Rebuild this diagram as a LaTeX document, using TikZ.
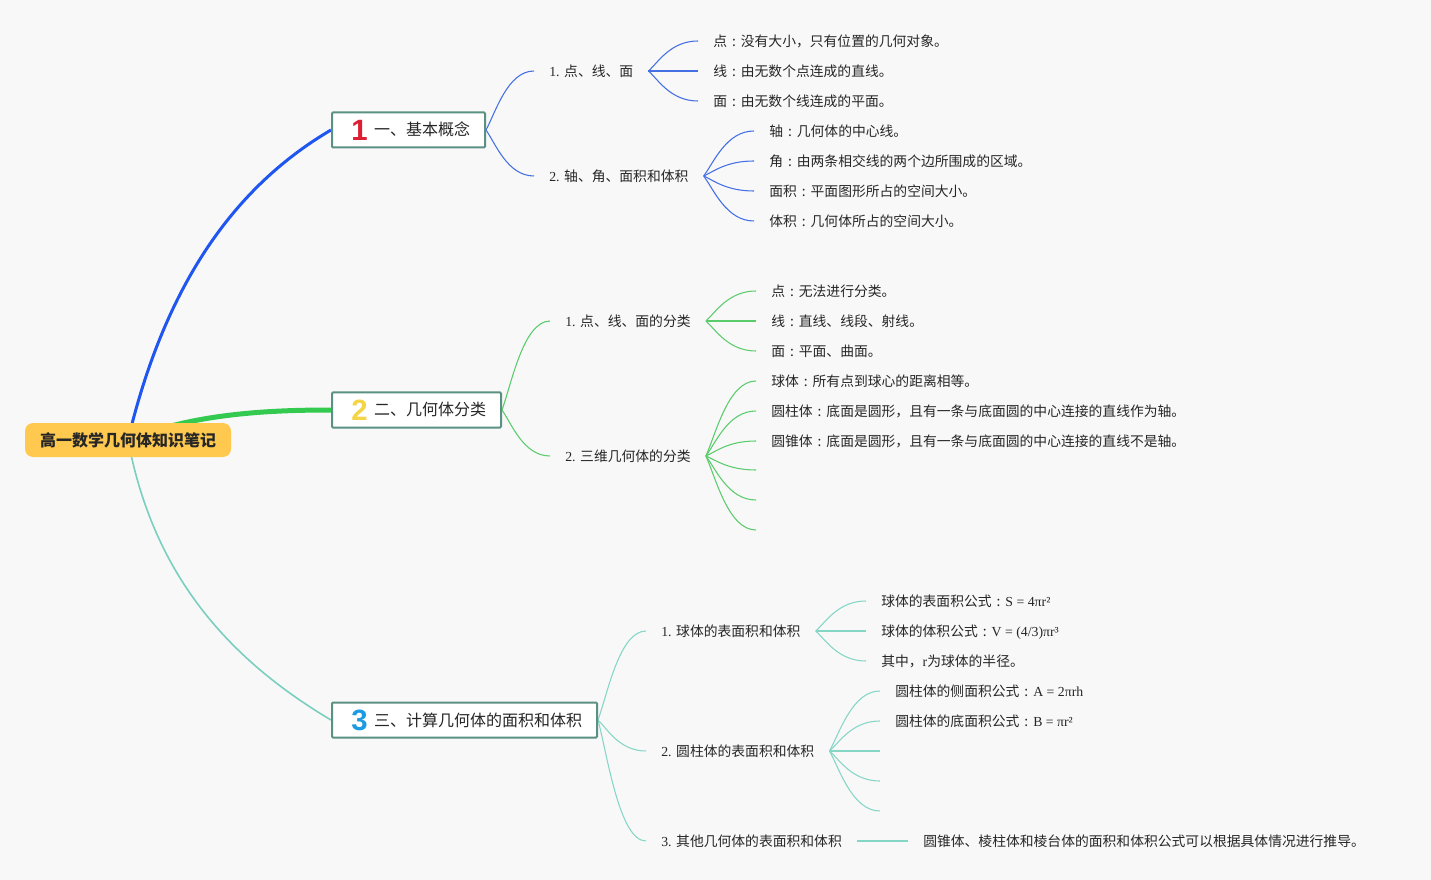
\documentclass[tikz,border=0pt]{standalone}
\usepackage{fontspec}
\setmainfont{Noto Sans CJK SC}
\newfontfamily\lat{Liberation Serif}
\newfontfamily\badgefont{Liberation Sans}[BoldFont={Liberation Sans Bold}]
\usetikzlibrary{calc}
\newlength\px \setlength\px{0.75pt}
\definecolor{bgc}{HTML}{F8F8F9}
\definecolor{txtc}{HTML}{262626}
\definecolor{rootc}{HTML}{FFC94F}
\definecolor{boxc}{HTML}{5A9182}
\definecolor{bmain}{HTML}{1F56F0}
\definecolor{gmain}{HTML}{33CA4F}
\definecolor{tmain}{HTML}{7ACFBE}
\definecolor{bthin}{HTML}{4470E4}
\definecolor{gthin}{HTML}{5ACC6C}
\definecolor{tthin}{HTML}{86D6C5}
\definecolor{bred}{HTML}{DC1F32}
\definecolor{byel}{HTML}{F5D445}
\definecolor{bblu}{HTML}{1D9BE2}
\newcommand\mybadge[2]{\makebox[17\px]{\raisebox{-4.5\px}{\color{#1}\badgefont\bfseries\fontsize{22pt}{22pt}\selectfont #2}}}
\newcommand\cc{\makebox[1em][c]{:}}
\pgfdeclarelayer{back}
\pgfdeclarelayer{lines}
\pgfsetlayers{back,lines,main}
\begin{document}
\begin{tikzpicture}[x=0.75pt,y=-0.75pt,
  leaf/.style={anchor=west, inner xsep=15\px, inner ysep=0pt, text height=10.5\px, text depth=0pt,
    font=\fontsize{10.35pt}{12pt}\selectfont, text=txtc},
  topicbox/.style={draw=boxc, line width=1.5pt, fill=white, anchor=west, inner xsep=0pt, inner ysep=0pt,
    minimum height=35\px, text height=12\px, text depth=0pt, rounded corners=1\px,
    font=\fontsize{12pt}{14pt}\selectfont, text=txtc},
  rootbox/.style={fill=rootc, rounded corners=8\px, inner xsep=15\px, inner ysep=0pt,
    minimum height=34\px, text height=12\px, text depth=0pt,
    font=\fontsize{12pt}{14pt}\selectfont\bfseries, text=txtc},
  fan/.style={to path={let \p1=(\tikztostart), \p2=(\tikztotarget) in
    .. controls ({\x1+0.2*(\x2-\x1)},{\y1+0.3*(\y2-\y1)}) and ({\x1+0.45*(\x2-\x1)},{\y2}) .. (\tikztotarget)}},
  lb/.style={draw=bthin, line width=0.8pt},
  lg/.style={draw=gthin, line width=0.8pt},
  lt/.style={draw=tthin, line width=0.8pt},
]
\useasboundingbox (0,0) rectangle (1431,880);
\begin{pgfonlayer}{back}
\fill[bgc] (0,0) rectangle (1431,880);
\end{pgfonlayer}

% root and topics
\node[rootbox] (root) at (128,440) {高一数学几何体知识笔记};
\node[topicbox] (b1) at (331,130) {\hspace*{19\px}\mybadge{bred}{1}\hspace*{6\px}一、基本概念\hspace*{15\px}};
\node[topicbox] (b2) at (331,410) {\hspace*{19\px}\mybadge{byel}{2}\hspace*{6\px}二、几何体分类\hspace*{15\px}};
\node[topicbox] (b3) at (331,720) {\hspace*{19\px}\mybadge{bblu}{3}\hspace*{6\px}三、计算几何体的面积和体积\hspace*{15\px}};

% branch 1
\node[leaf] (n11) at (534,71) {{\lat 1. }点、线、面};
\node[leaf] (n12) at (534,176) {{\lat 2. }轴、角、面积和体积};
\node[leaf] (n111) at (698,41) {点\cc 没有大小，只有位置的几何对象。};
\node[leaf] (n112) at (698,71) {线\cc 由无数个点连成的直线。};
\node[leaf] (n113) at (698,101) {面\cc 由无数个线连成的平面。};
\node[leaf] (n121) at (754,131) {轴\cc 几何体的中心线。};
\node[leaf] (n122) at (754,161) {角\cc 由两条相交线的两个边所围成的区域。};
\node[leaf] (n123) at (754,191) {面积\cc 平面图形所占的空间大小。};
\node[leaf] (n124) at (754,221) {体积\cc 几何体所占的空间大小。};

% branch 2
\node[leaf] (n21) at (550,321) {{\lat 1. }点、线、面的分类};
\node[leaf] (n22) at (550,456) {{\lat 2. }三维几何体的分类};
\node[leaf] (n211) at (756,291) {点\cc 无法进行分类。};
\node[leaf] (n212) at (756,321) {线\cc 直线、线段、射线。};
\node[leaf] (n213) at (756,351) {面\cc 平面、曲面。};
\node[leaf] (n221) at (756,381) {球体\cc 所有点到球心的距离相等。};
\node[leaf] (n222) at (756,411) {圆柱体\cc 底面是圆形，且有一条与底面圆的中心连接的直线作为轴。};
\node[leaf] (n223) at (756,441) {圆锥体\cc 底面是圆形，且有一条与底面圆的中心连接的直线不是轴。};
\coordinate (e224) at (756,470);
\coordinate (e225) at (756,500);
\coordinate (e226) at (756,530);

% branch 3
\node[leaf] (n31) at (646,631) {{\lat 1. }球体的表面积和体积};
\node[leaf] (n32) at (646,751) {{\lat 2. }圆柱体的表面积和体积};
\node[leaf] (n33) at (646,841) {{\lat 3. }其他几何体的表面积和体积};
\node[leaf] (n311) at (866,601) {球体的表面积公式\cc{\lat S = 4πr²}};
\node[leaf] (n312) at (866,631) {球体的体积公式\cc{\lat V = (4/3)πr³}};
\node[leaf] (n313) at (866,661) {其中，{\lat r}为球体的半径。};
\node[leaf] (n321) at (880,691) {圆柱体的侧面积公式\cc{\lat A = 2πrh}};
\node[leaf] (n322) at (880,721) {圆柱体的底面积公式\cc{\lat B = πr²}};
\coordinate (e323) at (880,751);
\coordinate (e324) at (880,781);
\coordinate (e325) at (880,811);
\node[leaf] (n331) at (908,841) {圆锥体、棱柱体和棱台体的面积和体积公式可以根据具体情况进行推导。};

\begin{pgfonlayer}{lines}
\draw[bmain, line width=2.25pt] (root.center) .. controls (165,285) and (234,187) .. (b1.west);
\draw[gmain, line width=3.75pt] (root.center) .. controls (190,415) and (260,410) .. (b2.west);
\draw[tmain, line width=1.2pt] (root.center) .. controls (152,567) and (220,654) .. (b3.west);

\draw[lb] (b1.east) to[fan] (n11.west);
\draw[lb] (b1.east) to[fan] (n12.west);
\foreach \t in {n111,n112,n113} \draw[lb] (n11.east) to[fan] (\t.west);
\foreach \t in {n121,n122,n123,n124} \draw[lb] (n12.east) to[fan] (\t.west);

\draw[lg] (b2.east) to[fan] (n21.west);
\draw[lg] (b2.east) to[fan] (n22.west);
\foreach \t in {n211,n212,n213} \draw[lg] (n21.east) to[fan] (\t.west);
\foreach \t in {n221.west,n222.west,n223.west,e224,e225,e226} \draw[lg] (n22.east) to[fan] (\t);

\draw[lt] (b3.east) to[fan] (n31.west);
\draw[lt] (b3.east) to[fan] (n32.west);
\draw[lt] (b3.east) to[fan] (n33.west);
\foreach \t in {n311,n312,n313} \draw[lt] (n31.east) to[fan] (\t.west);
\foreach \t in {n321.west,n322.west,e323,e324,e325} \draw[lt] (n32.east) to[fan] (\t);
\draw[lt] (n33.east) -- (n331.west);
\end{pgfonlayer}
\end{tikzpicture}
\end{document}
